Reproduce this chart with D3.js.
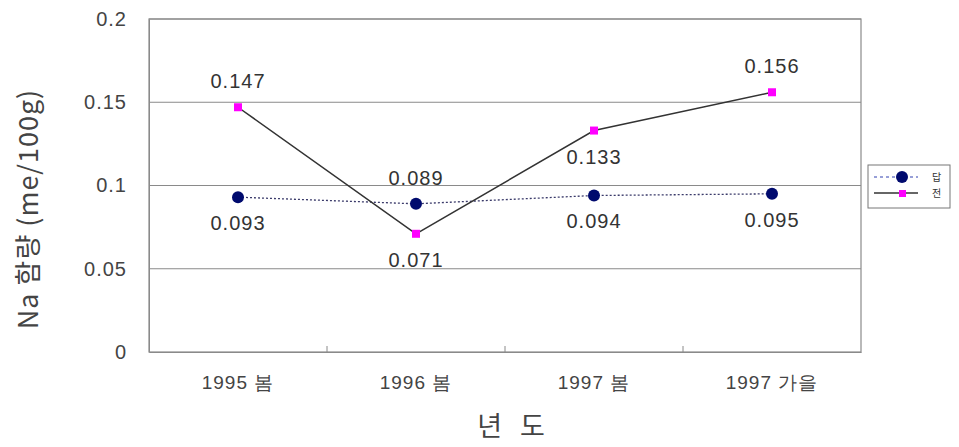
<!DOCTYPE html>
<html>
<head>
<meta charset="utf-8">
<script src="https://cdn.jsdelivr.net/npm/d3@7"></script>
<style>
  body { margin: 0; background: #fff; }
  text { font-family: "Liberation Sans", Arial, sans-serif; }
  .kr { font-family: "Noto Sans CJK KR", "Liberation Sans", sans-serif; }
</style>
</head>
<body>
<svg id="chart" width="959" height="447"></svg>
<script>
const categories = ['1995 봄', '1996 봄', '1997 봄', '1997 가을']
const seriesNames = ['답', '전']
const paddyValues = [0.093, 0.089, 0.094, 0.095]
const fieldValues = [0.147, 0.071, 0.133, 0.156]
const paddyLabelPos = ['below', 'above', 'below', 'below']
const fieldLabelPos = ['above', 'below', 'below', 'above']
const yTicks = [0, 0.05, 0.1, 0.15, 0.2]

const svg = d3.select('#chart')
const m = { left: 149, right: 861, top: 19, bottom: 352 }

const x = d3.scaleBand().domain(categories).range([m.left, m.right])
const y = d3.scaleLinear().domain([0, 0.2]).range([m.bottom, m.top])

// gridlines
svg.append('g').selectAll('line').data(yTicks.slice(1)).join('line')
  .attr('x1', m.left).attr('x2', m.right)
  .attr('y1', d => y(d)).attr('y2', d => y(d))
  .attr('stroke', '#8a8a8a').attr('stroke-width', 1.2)

// plot border
svg.append('rect')
  .attr('x', m.left).attr('y', m.top)
  .attr('width', m.right - m.left).attr('height', m.bottom - m.top)
  .attr('fill', 'none').attr('stroke', '#8a8a8a').attr('stroke-width', 1.2)

// y axis
const yAxis = svg.append('g')
  .attr('transform', `translate(${m.left},0)`)
  .call(d3.axisLeft(y).tickValues(yTicks).tickSize(0).tickPadding(22)
    .tickFormat(d => d === 0 ? '0' : String(d)))
yAxis.select('.domain').attr('stroke', '#8a8a8a')
yAxis.selectAll('text').attr('font-size', 20).attr('fill', '#444')
  .attr('letter-spacing', 1)
  .attr('font-family', '"Liberation Sans", Arial, sans-serif')

// x axis
const xAxis = svg.append('g')
  .attr('transform', `translate(0,${m.bottom})`)
  .call(d3.axisBottom(x).tickSize(0).tickPadding(24))
xAxis.select('.domain').attr('stroke', '#8a8a8a')
xAxis.selectAll('text').attr('font-size', 19).attr('fill', '#444')
  .attr('letter-spacing', 1)
  .attr('font-family', '"Liberation Sans", "Noto Sans CJK KR", sans-serif')

// tick marks between categories (pointing inward)
svg.append('g').selectAll('line').data(categories.slice(1)).join('line')
  .attr('x1', d => x(d)).attr('x2', d => x(d))
  .attr('y1', m.bottom).attr('y2', m.bottom - 6)
  .attr('stroke', '#8a8a8a')

// axis titles
svg.append('text').attr('class', 'kr')
  .attr('transform', 'translate(38,209) rotate(-90)')
  .attr('text-anchor', 'middle').attr('font-size', 27).attr('fill', '#444')
  .attr('letter-spacing', 1)
  .text('Na 함량 (me/100g)')
svg.append('text').attr('class', 'kr')
  .attr('x', 514).attr('y', 436)
  .attr('text-anchor', 'middle').attr('font-size', 27).attr('fill', '#444')
  .attr('letter-spacing', 6)
  .text('년 도')

const cx = d => x(d) + x.bandwidth() / 2

// paddy series (dotted, navy circles)
const line = d3.line().x(d => cx(d[0])).y(d => y(d[1]))
svg.append('path')
  .datum(categories.map((c, i) => [c, paddyValues[i]]))
  .attr('d', line).attr('fill', 'none')
  .attr('stroke', '#3a3a6a').attr('stroke-width', 1.3).attr('stroke-dasharray', '2,2')

// field series (solid)
svg.append('path')
  .datum(categories.map((c, i) => [c, fieldValues[i]]))
  .attr('d', line).attr('fill', 'none')
  .attr('stroke', '#333').attr('stroke-width', 1.5)

svg.append('g').selectAll('circle').data(paddyValues).join('circle')
  .attr('cx', (d, i) => cx(categories[i])).attr('cy', d => y(d))
  .attr('r', 6).attr('fill', '#000a6e')

svg.append('g').selectAll('rect').data(fieldValues).join('rect')
  .attr('x', (d, i) => cx(categories[i]) - 4).attr('y', d => y(d) - 4)
  .attr('width', 8).attr('height', 8).attr('fill', '#ff00ff')

// data labels
function labels(values, pos) {
  svg.append('g').selectAll('text').data(values).join('text')
    .attr('x', (d, i) => cx(categories[i]))
    .attr('y', (d, i) => pos[i] === 'above' ? y(d) - 19 : y(d) + 33)
    .attr('text-anchor', 'middle').attr('font-size', 20).attr('fill', '#333')
    .attr('letter-spacing', 1)
    .text(d => d.toFixed(3))
}
labels(paddyValues, paddyLabelPos)
labels(fieldValues, fieldLabelPos)

// legend
const lg = svg.append('g')
lg.append('rect').attr('x', 868).attr('y', 165).attr('width', 82).attr('height', 43)
  .attr('fill', '#fff').attr('stroke', '#777').attr('stroke-width', 1)
lg.append('line').attr('x1', 874).attr('x2', 918).attr('y1', 177).attr('y2', 177)
  .attr('stroke', '#3040b0').attr('stroke-width', 1).attr('stroke-dasharray', '3,3')
lg.append('circle').attr('cx', 902).attr('cy', 177).attr('r', 6).attr('fill', '#000a6e')
lg.append('line').attr('x1', 874).attr('x2', 918).attr('y1', 193).attr('y2', 193)
  .attr('stroke', '#333').attr('stroke-width', 1.3)
lg.append('rect').attr('x', 899).attr('y', 190).attr('width', 7).attr('height', 7).attr('fill', '#ff00ff')
lg.selectAll('text.lab').data(seriesNames).join('text').attr('class', 'kr')
  .attr('x', 932).attr('y', (d, i) => 181 + i * 16)
  .attr('font-size', 10).attr('fill', '#333').text(d => d)
</script>
</body>
</html>
